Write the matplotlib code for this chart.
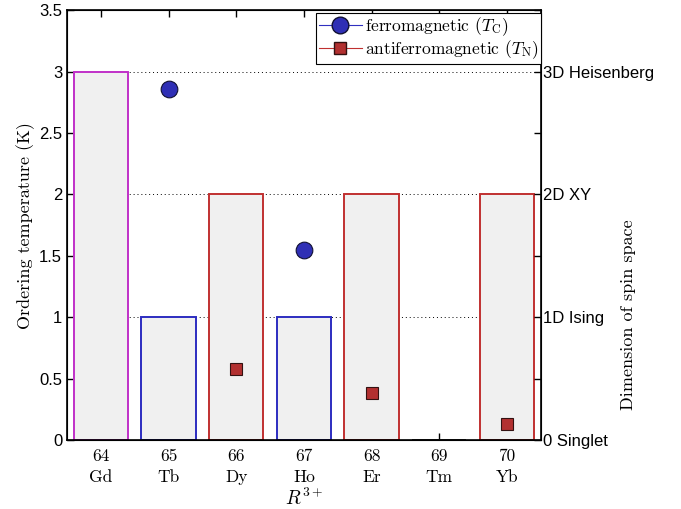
import matplotlib
matplotlib.use("Agg")
import matplotlib.pyplot as plt
from matplotlib.lines import Line2D
import numpy as np

# data
z_numbers = [64, 65, 66, 67, 68, 69, 70]
elements = ["Gd", "Tb", "Dy", "Ho", "Er", "Tm", "Yb"]
spin_dim = [3, 1, 2, 1, 2, 0, 2]
bar_edge = ["#c030c8", "#2c2cc0", "#c03030", "#2c2cc0", "#c03030", "#333333", "#c03030"]
ferro_z = [65, 67]
ferro_tc = [2.86, 1.55]
afm_z = [66, 68, 70]
afm_tn = [0.58, 0.38, 0.13]
dim_ticks = [0, 1, 2, 3]
dim_labels = ["0 Singlet", "1D Ising", "2D XY", "3D Heisenberg"]

plt.rcParams["mathtext.fontset"] = "cm"
plt.rcParams["axes.formatter.use_mathtext"] = True
serif = ["cmr10", "DejaVu Serif"]
sans = ["Liberation Sans", "DejaVu Sans"]

fig = plt.figure(figsize=(6.81, 5.09), dpi=100)
ax = fig.add_axes([0.0984, 0.1356, 0.6956, 0.8444])

# dotted guide lines at each spin-space dimension
for y in dim_ticks[1:]:
    ax.axhline(y, color="black", linestyle=(0, (1, 3)), linewidth=0.7, zorder=0)

ax.bar(z_numbers, spin_dim, width=0.8, facecolor="#f0f0f0", edgecolor=bar_edge,
       linewidth=1.4, zorder=2)

ax.plot(ferro_z, ferro_tc, "o", markersize=12, markerfacecolor="#2f2fb5",
        markeredgecolor="#111133", markeredgewidth=0.8, zorder=4)
ax.plot(afm_z, afm_tn, "s", markersize=9, markerfacecolor="#b23030",
        markeredgecolor="#331111", markeredgewidth=0.8, zorder=4)

ax.set_xlim(63.5, 70.5)
ax.set_ylim(0, 3.5)
ax.set_xticks(z_numbers)
ax.set_xticklabels([f"{z}\n{e}" for z, e in zip(z_numbers, elements)],
                   fontfamily=serif, fontsize=12.5, linespacing=1.45)
ax.set_yticks(np.arange(0, 3.51, 0.5))
ax.set_yticklabels(["0", "0.5", "1", "1.5", "2", "2.5", "3", "3.5"],
                   fontfamily=sans, fontsize=12)
ax.tick_params(direction="in", top=True, length=5, width=1)
ax.tick_params(axis="x", pad=6)
ax.set_ylabel("Ordering temperature (K)", fontfamily=serif, fontsize=13, labelpad=3)
ax.set_xlabel(r"$R^{3+}$", fontsize=14, labelpad=2)
for s in ax.spines.values():
    s.set_linewidth(1.2)

# right axis: dimension of spin space
ax2 = ax.twinx()
ax2.set_ylim(0, 3.5)
ax2.set_yticks(np.arange(0, 3.51, 0.5))
lab = [dim_labels[int(v)] if v in dim_ticks else "" for v in np.arange(0, 3.51, 0.5)]
ax2.set_yticklabels(lab, fontfamily=sans, fontsize=12)
ax2.tick_params(direction="in", length=5, width=1, pad=2)
fig.text(0.922, 0.382, "Dimension of spin space", rotation=90, ha="center",
         va="center", fontfamily=serif, fontsize=13)

handles = [
    Line2D([], [], color="#3030c0", linewidth=0.8, marker="o", markersize=12,
           markerfacecolor="#2f2fb5", markeredgecolor="#111133"),
    Line2D([], [], color="#c03030", linewidth=0.8, marker="s", markersize=9,
           markerfacecolor="#b23030", markeredgecolor="#331111"),
]
leg = ax2.legend(handles,
                 [r"ferromagnetic ($T_{\mathrm{C}}$)", r"antiferromagnetic ($T_{\mathrm{N}}$)"],
                 loc="upper right", bbox_to_anchor=(1.0, 0.994), fancybox=False,
                 framealpha=1, edgecolor="black",
                 prop={"family": serif, "size": 12.5}, handlelength=2.5,
                 handletextpad=0.15, borderpad=0.15, labelspacing=0.02,
                 borderaxespad=0.0)
leg.get_frame().set_linewidth(0.8)

fig.savefig("out.png", dpi=100)
